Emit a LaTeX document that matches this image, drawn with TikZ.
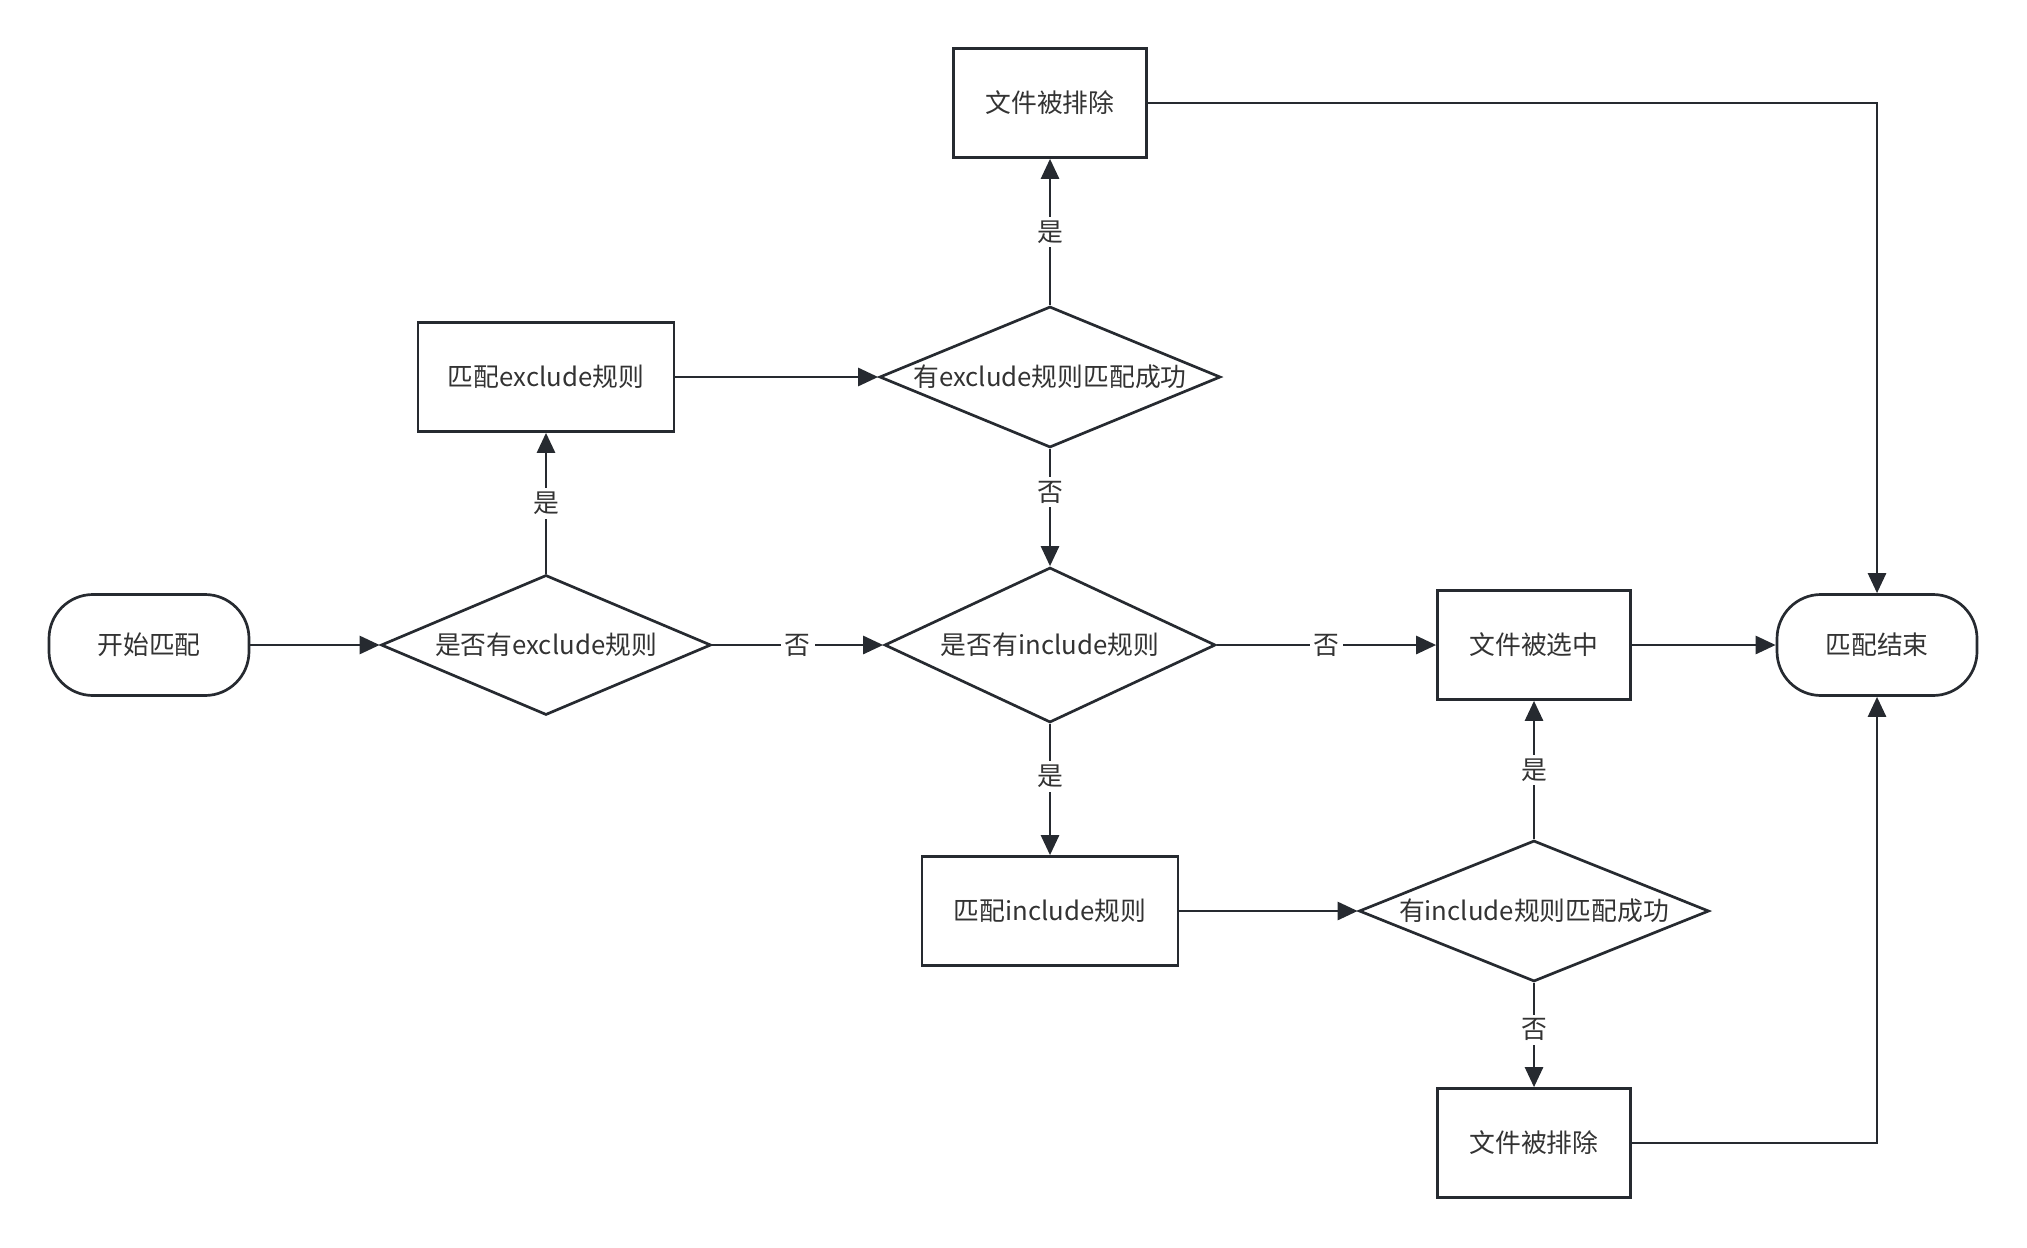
\documentclass[tikz,border=0pt]{standalone}
\usepackage{fontspec}
\setmainfont{Noto Sans CJK SC}
\usetikzlibrary{arrows.meta,shapes.geometric}

\definecolor{linec}{HTML}{262A30}
\definecolor{textc}{HTML}{333333}
\newcommand{\ztext}[1]{\makebox[0pt]{#1}}

\tikzset{
  terminal/.style={draw=linec, rounded corners=22pt, minimum width=100pt,
    minimum height=50.5pt, text=textc},
  process/.style={draw=linec, minimum width=#1, minimum height=54.5pt, text=textc},
  process/.default=96.5pt,
  decision/.style 2 args={draw=linec, diamond, inner sep=0pt, text=textc,
    minimum width=#1, minimum height=#2},
  lbl/.style={fill=white, inner sep=2pt, text=textc}
}

\begin{document}
\begin{tikzpicture}[x=0.5pt,y=-0.5pt,->,>={Triangle[length=10pt,width=9pt]},
        line width=1.35pt,draw=linec,font=\fontsize{12.9pt}{15pt}\selectfont]

  \useasboundingbox (0,0) rectangle (2027,1247);

  \node[terminal] (start) at (149,645) {开始匹配};
  \node[decision={165pt}{70pt}] (hasex) at (546,645) {\ztext{是否有exclude规则}};
  \node[process=128pt] (matchex) at (546,377) {匹配exclude规则};
  \node[decision={170.5pt}{70.5pt}] (exok) at (1050,377) {\ztext{有exclude规则匹配成功}};
  \node[process] (excl1) at (1050,103) {文件被排除};
  \node[decision={165.5pt}{77.5pt}] (hasin) at (1050,645) {\ztext{是否有include规则}};
  \node[process] (chosen) at (1534,645) {文件被选中};
  \node[terminal] (end) at (1877,645) {匹配结束};
  \node[process=128pt] (matchin) at (1050,911) {匹配include规则};
  \node[decision={175pt}{70.5pt}] (inok) at (1534,911) {\ztext{有include规则匹配成功}};
  \node[process] (excl2) at (1534,1143) {文件被排除};

  \path (start) edge (hasex)
        (hasex) edge node[lbl] {是} (matchex)
        (matchex) edge (exok)
        (exok) edge node[lbl] {是} (excl1)
        (exok) edge node[lbl,pos=0.37] {否} (hasin)
        (hasex) edge node[lbl] {否} (hasin)
        (hasin) edge node[lbl] {否} (chosen)
        (hasin) edge node[lbl,pos=0.4] {是} (matchin)
        (matchin) edge (inok)
        (inok) edge node[lbl] {是} (chosen)
        (inok) edge node[lbl,pos=0.45] {否} (excl2)
        (chosen) edge (end);

  \draw (excl1) -| (end);
  \draw (excl2) -| (end);

\end{tikzpicture}
\end{document}
